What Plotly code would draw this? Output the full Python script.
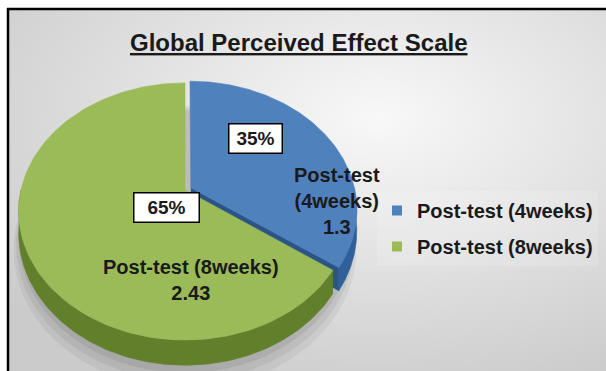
import base64
import numpy as np
import plotly.graph_objects as go

# ---- data -------------------------------------------------------------
categories = ["Post-test (4weeks)", "Post-test (8weeks)"]
values = [1.3, 2.43]
top_colors = ["#4F81BD", "#9BBB59"]
side_colors = ["#30609A", "#62802B"]
face_color = "#2B5487"
explode = [0.04, 0.0]
title_text = "Global Perceived Effect Scale"

# ---- 3D pie geometry (pixel frame, y grows downward) -----------------
W, H = 606, 371
CX, CY = 185.0, 190.0      # projected pie centre
RX, RY = 164.0, 125.0      # radii of the top face
K = 0.167                  # perspective strength
DEPTH = 21.0               # thickness of the pie
FONT = "Liberation Sans, Arial, sans-serif"

total = float(sum(values))
fractions = [v / total for v in values]
starts = np.concatenate([[0.0], np.cumsum(fractions)[:-1]]) * 2 * np.pi
ends = np.cumsum(fractions) * 2 * np.pi


def project(u, w, h):
    """Map disc coords (u right, w back) and height h (0 top, 1 bottom)."""
    s = 1.0 / (1.0 + K * w)
    return CX + RX * u * s, CY - RY * w * s + DEPTH * s * h


def rim(t, off, h, r=1.0):
    return project(off[0] + r * np.sin(t), off[1] + r * np.cos(t), h)


def poly(xs, ys, color, line_color=None):
    return go.Scatter(
        x=list(xs), y=list(ys), mode="lines", fill="toself",
        fillcolor=color, line=dict(color=line_color or color, width=0.6),
        hoverinfo="skip", showlegend=False,
    )


traces = []

# soft shadow under the pie
for r, h, a in [(1.03, 1.7, 0.05), (1.015, 1.5, 0.06), (1.0, 1.3, 0.07)]:
    t = np.linspace(0, 2 * np.pi, 200)
    sx, sy = rim(t, (0.0, 0.0), h, r)
    traces.append(poly(sx, sy, f"rgba(0,0,0,{a})", "rgba(0,0,0,0)"))

side_pieces = []
top_pieces = []
for i in range(len(values)):
    t0, t1 = starts[i], ends[i]
    mid = 0.5 * (t0 + t1)
    off = (explode[i] * np.sin(mid), explode[i] * np.cos(mid))

    # top face
    t = np.linspace(t0, t1, 160)
    ax, ay = rim(t, off, 0)
    c0 = project(off[0], off[1], 0)
    top_pieces.append(([c0[0], *ax, c0[0]], [c0[1], *ay, c0[1]], top_colors[i]))

    # outer wall (front half only)
    a, b = max(t0, np.pi / 2), min(t1, 3 * np.pi / 2)
    if a < b:
        ts = np.linspace(a, b, 120)
        ux, uy = rim(ts, off, 0)
        lx, ly = rim(ts[::-1], off, 1)
        w_mean = off[1] + np.cos(0.5 * (a + b))
        side_pieces.append((w_mean, list(ux) + list(lx), list(uy) + list(ly),
                            side_colors[i]))

    # radial cut faces that turn toward the viewer
    for tt, normal in [(t0, t0 - np.pi / 2), (t1, t1 + np.pi / 2)]:
        if np.cos(normal) < -1e-6:
            p1 = project(off[0], off[1], 0)
            p2 = rim(tt, off, 0)
            p3 = rim(tt, off, 1)
            p4 = project(off[0], off[1], 1)
            w_mean = off[1] + 0.5 * np.cos(tt)
            side_pieces.append((w_mean, [p1[0], p2[0], p3[0], p4[0]],
                                [p1[1], p2[1], p3[1], p4[1]], face_color))

# back pieces first
for _, xs, ys, col in sorted(side_pieces, key=lambda p: -p[0]):
    traces.append(poly(xs, ys, col))
for xs, ys, col in top_pieces:
    traces.append(poly(xs, ys, col))

# legend entries
for i, cat in enumerate(categories):
    traces.append(go.Scatter(
        x=[None], y=[None], mode="markers", name=cat, legendgroup=cat,
        marker=dict(symbol="square", size=10, color=top_colors[i]),
    ))

fig = go.Figure(traces)

# ---- background panel with a radial gradient -------------------------
svg = (
    '<svg xmlns="http://www.w3.org/2000/svg" width="598" height="362">'
    '<defs><radialGradient id="g" cx="0.62" cy="0.3" r="0.8">'
    '<stop offset="0" stop-color="#f8f8f8"/>'
    '<stop offset="1" stop-color="#cbcbcb"/>'
    '</radialGradient></defs>'
    '<rect width="598" height="362" fill="url(#g)"/></svg>'
)
bg_src = "data:image/svg+xml;base64," + base64.b64encode(svg.encode()).decode()

# ---- labels ----------------------------------------------------------
pct = [f"{round(f * 100)}%" for f in fractions]
label_blue = categories[0].replace(" (", "<br>(") + f"<br>{values[0]}"
label_green = f"{categories[1]}<br>{values[1]}"

bold = dict(family=FONT, size=20, color="#1a1a1a")
pct_font = dict(family=FONT, size=19, color="#1a1a1a")
annotations = [
    dict(x=299, y=42, text=f"<b><u>{title_text}</u></b>",
         font=dict(family=FONT, size=24, color="#1a1a1a")),
    dict(x=255, y=138, text=f"<b>{pct[0]}</b>", font=pct_font,
         bgcolor="white", bordercolor="black", borderwidth=1.5,
         width=48, height=24, borderpad=2),
    dict(x=166, y=207, text=f"<b>{pct[1]}</b>", font=pct_font,
         bgcolor="white", bordercolor="black", borderwidth=1.5,
         width=60, height=24, borderpad=2),
    dict(x=337, y=201, text=f"<b>{label_blue}</b>", font=bold),
    dict(x=191, y=280, text=f"<b>{label_green}</b>", font=bold),
]
for a in annotations:
    a.update(xref="x", yref="y", showarrow=False)

fig.update_layout(
    width=W, height=H,
    margin=dict(l=0, r=0, t=0, b=0),
    paper_bgcolor="white",
    plot_bgcolor="rgba(0,0,0,0)",
    xaxis=dict(range=[0, W], visible=False, fixedrange=True),
    yaxis=dict(range=[H, 0], visible=False, fixedrange=True),
    images=[dict(source=bg_src, xref="paper", yref="paper",
                 x=8 / W, y=1 - 9 / H, sizex=598 / W, sizey=362 / H,
                 xanchor="left", yanchor="top", sizing="stretch",
                 layer="below")],
    shapes=[
        dict(type="line", xref="x", yref="y", x0=7, x1=W, y0=9, y1=9,
             line=dict(color="black", width=2.5)),
        dict(type="line", xref="x", yref="y", x0=8, x1=8, y0=8, y1=H,
             line=dict(color="black", width=2.5)),
    ],
    annotations=annotations,
    showlegend=True,
    legend=dict(
        x=377 / W, y=1 - 191 / H, xanchor="left", yanchor="top",
        font=dict(family=FONT, size=20, color="#1a1a1a", weight="bold"),
        bgcolor="rgba(255,255,255,0.15)", traceorder="grouped",
        tracegroupgap=7,
    ),
)

fig.write_html("out.html")
